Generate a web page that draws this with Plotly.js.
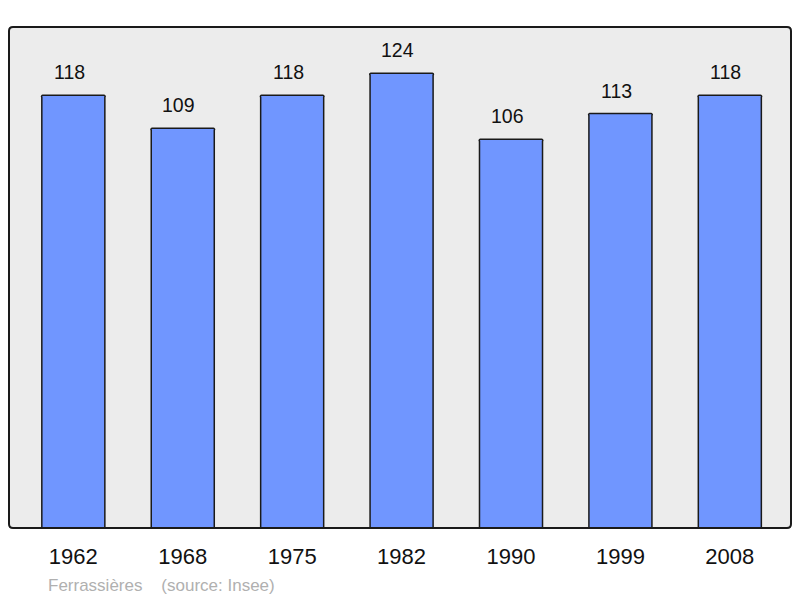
<!DOCTYPE html>
<html>
<head>
<meta charset="utf-8">
<script src="https://cdn.plot.ly/plotly-3.0.1.min.js"></script>
<style>html,body{margin:0;padding:0;background:#fff;}#chart{width:800px;height:598px;}</style>
</head>
<body>
<div id="chart"></div>
<script>
var years = ["1962", "1968", "1975", "1982", "1990", "1999", "2008"];
var population = [118, 109, 118, 124, 106, 113, 118];
var footerText = "Ferrassières\u00a0\u00a0\u00a0\u00a0(source: Insee)";

var W = 782, H = 501;
var rx = 4 / W, ry = 4 / H;
var framePath = "M " + rx + " 0 L " + (1 - rx) + " 0 Q 1 0 1 " + ry +
  " L 1 " + (1 - ry) + " Q 1 1 " + (1 - rx) + " 1 L " + rx + " 1 Q 0 1 0 " + (1 - ry) +
  " L 0 " + ry + " Q 0 0 " + rx + " 0 Z";

var trace = {
  type: "bar",
  x: years,
  y: population,
  width: 0.576,
  marker: {color: "#7096ff", line: {color: "#1a1a1a", width: 1.5}, cornerradius: 2},
  hoverinfo: "none"
};

var annotations = years.map(function (yr, i) {
  return {
    x: i, y: population[i], xref: "x", yref: "y",
    text: String(population[i]), showarrow: false,
    yanchor: "bottom", yshift: 10, xshift: -4,
    font: {family: "Liberation Sans, Arial, sans-serif", size: 19.5, color: "#111"}
  };
});
annotations.push({
  x: (46 - 9) / W, y: -(585 - 528) / H, xref: "paper", yref: "paper", text: footerText, showarrow: false,
  font: {family: "Liberation Sans, Arial, sans-serif", size: 17, color: "#b0b0b0"},
  xanchor: "left", yanchor: "middle"
});

var layout = {
  width: 800, height: 598,
  margin: {l: 9, r: 9, t: 27, b: 70, pad: 0},
  paper_bgcolor: "#ffffff",
  plot_bgcolor: "#ececec",
  showlegend: false,
  bargap: 0,
  xaxis: {
    type: "category",
    range: [-0.588, 6.559],
    showgrid: false, zeroline: false, showline: false,
    ticks: "", ticklabelstandoff: 13,
    tickfont: {family: "Liberation Sans, Arial, sans-serif", size: 22, color: "#111"},
    fixedrange: true
  },
  yaxis: {
    range: [0, 136.6],
    showgrid: false, zeroline: false, showline: false,
    showticklabels: false, ticks: "",
    fixedrange: true
  },
  shapes: [{
    type: "path", xref: "paper", yref: "paper", path: framePath,
    line: {color: "#1a1a1a", width: 2}, fillcolor: "rgba(0,0,0,0)", layer: "above"
  }],
  annotations: annotations
};

Plotly.newPlot("chart", [trace], layout, {displayModeBar: false, staticPlot: true});
</script>
</body>
</html>
